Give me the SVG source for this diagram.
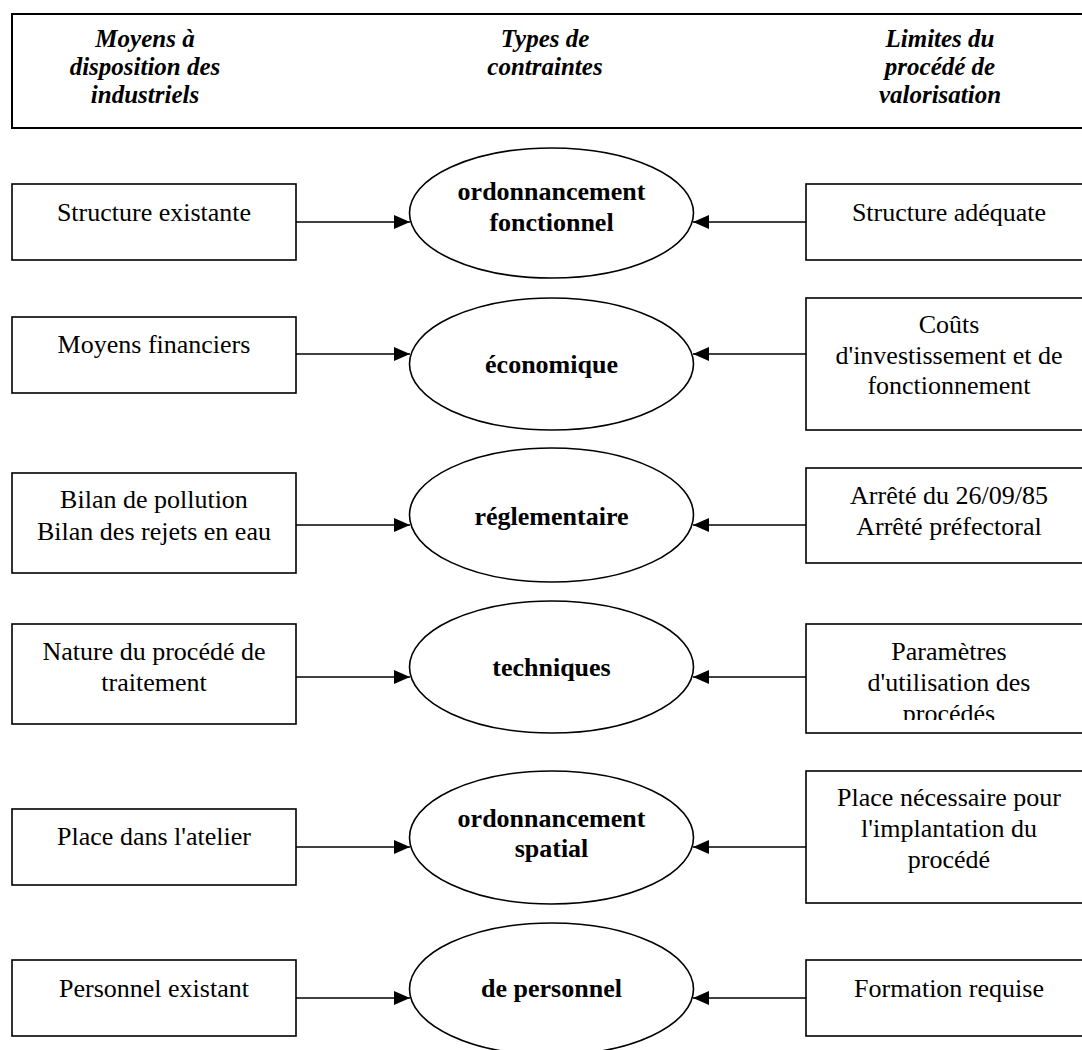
<svg xmlns="http://www.w3.org/2000/svg" width="1082" height="1050" viewBox="0 0 1082 1050">
<style>
.box{fill:#fff;stroke:#000;stroke-width:1.6}
.hdr{fill:#fff;stroke:#000;stroke-width:2}
.ell{fill:#fff;stroke:#000;stroke-width:1.6}
text{font-family:"Liberation Serif","Times New Roman",Times,serif;fill:#000;text-anchor:middle}
.t{font-size:26px}
.b{font-weight:bold}
.h{font-size:25px;font-weight:bold;font-style:italic}
.c{stroke:#000;stroke-width:1.6;fill:none}
</style>
<defs>
<marker id="ah" markerWidth="17" markerHeight="14" refX="16" refY="7" orient="auto" markerUnits="userSpaceOnUse">
<path d="M0,0 L16,7 L0,14 Z" fill="#000"/>
</marker>
<clipPath id="clip4"><rect x="806" y="624" width="290" height="96"/></clipPath>
</defs>
<rect width="1082" height="1050" fill="#fff"/>
<g id="header" font-family="Liberation Serif, Times New Roman, serif">
<rect class="hdr" x="12" y="14" width="1080" height="114"/>
<text class="h" x="145" y="47" font-family="Liberation Serif, serif">Moyens à</text>
<text class="h" x="145" y="75" font-family="Liberation Serif, serif">disposition des</text>
<text class="h" x="145" y="103" font-family="Liberation Serif, serif">industriels</text>
<text class="h" x="545" y="47" font-family="Liberation Serif, serif">Types de</text>
<text class="h" x="545" y="75" font-family="Liberation Serif, serif">contraintes</text>
<text class="h" x="940" y="47" font-family="Liberation Serif, serif">Limites du</text>
<text class="h" x="940" y="75" font-family="Liberation Serif, serif">procédé de</text>
<text class="h" x="940" y="103" font-family="Liberation Serif, serif">valorisation</text>
</g>
<g id="connectors">
<line class="c" x1="296" y1="222" x2="410" y2="222" marker-end="url(#ah)"/>
<line class="c" x1="806" y1="222" x2="693" y2="222" marker-end="url(#ah)"/>
<line class="c" x1="296" y1="354" x2="410" y2="354" marker-end="url(#ah)"/>
<line class="c" x1="806" y1="354" x2="693" y2="354" marker-end="url(#ah)"/>
<line class="c" x1="296" y1="525" x2="410" y2="525" marker-end="url(#ah)"/>
<line class="c" x1="806" y1="525" x2="693" y2="525" marker-end="url(#ah)"/>
<line class="c" x1="296" y1="677" x2="410" y2="677" marker-end="url(#ah)"/>
<line class="c" x1="806" y1="677" x2="693" y2="677" marker-end="url(#ah)"/>
<line class="c" x1="296" y1="847" x2="410" y2="847" marker-end="url(#ah)"/>
<line class="c" x1="806" y1="847" x2="693" y2="847" marker-end="url(#ah)"/>
<line class="c" x1="296" y1="998" x2="410" y2="998" marker-end="url(#ah)"/>
<line class="c" x1="806" y1="998" x2="693" y2="998" marker-end="url(#ah)"/>
</g>
<g id="l1"><rect class="box" x="12" y="184" width="284" height="76"/><text class="t" x="154" y="221">Structure existante</text></g>
<g id="l2"><rect class="box" x="12" y="317" width="284" height="76"/><text class="t" x="154" y="353">Moyens financiers</text></g>
<g id="l3"><rect class="box" x="12" y="473" width="284" height="100"/><text class="t" x="154" y="508">Bilan de pollution</text><text class="t" x="154" y="540">Bilan des rejets en eau</text></g>
<g id="l4"><rect class="box" x="12" y="624" width="284" height="100"/><text class="t" x="154" y="660">Nature du procédé de</text><text class="t" x="154" y="691">traitement</text></g>
<g id="l5"><rect class="box" x="12" y="809" width="284" height="76"/><text class="t" x="154" y="845">Place dans l'atelier</text></g>
<g id="l6"><rect class="box" x="12" y="960" width="284" height="76"/><text class="t" x="154" y="997">Personnel existant</text></g>
<g id="e1"><ellipse class="ell" cx="551.5" cy="213" rx="142" ry="65"/><text class="t b" x="551.5" y="200">ordonnancement</text><text class="t b" x="551.5" y="231">fonctionnel</text></g>
<g id="e2"><ellipse class="ell" cx="551.5" cy="364" rx="142" ry="66"/><text class="t b" x="551.5" y="373">économique</text></g>
<g id="e3"><ellipse class="ell" cx="551.5" cy="515" rx="142" ry="67"/><text class="t b" x="551.5" y="525">réglementaire</text></g>
<g id="e4"><ellipse class="ell" cx="551.5" cy="667" rx="142" ry="66"/><text class="t b" x="551.5" y="676">techniques</text></g>
<g id="e5"><ellipse class="ell" cx="551.5" cy="837.5" rx="142" ry="66.5"/><text class="t b" x="551.5" y="827">ordonnancement</text><text class="t b" x="551.5" y="857">spatial</text></g>
<g id="e6"><ellipse class="ell" cx="551.5" cy="989" rx="142" ry="66"/><text class="t b" x="551.5" y="997">de personnel</text></g>
<g id="r1"><rect class="box" x="806" y="184" width="286" height="76"/><text class="t" x="949" y="221">Structure adéquate</text></g>
<g id="r2"><rect class="box" x="806" y="298" width="286" height="132"/><text class="t" x="949" y="333">Coûts</text><text class="t" x="949" y="364">d'investissement et de</text><text class="t" x="949" y="394">fonctionnement</text></g>
<g id="r3"><rect class="box" x="806" y="468" width="286" height="95"/><text class="t" x="949" y="504">Arrêté du 26/09/85</text><text class="t" x="949" y="535">Arrêté préfectoral</text></g>
<g id="r4"><rect class="box" x="806" y="624" width="286" height="109"/><g clip-path="url(#clip4)"><text class="t" x="949" y="660">Paramètres</text><text class="t" x="949" y="691">d'utilisation des</text><text class="t" x="949" y="722">procédés</text></g></g>
<g id="r5"><rect class="box" x="806" y="771" width="286" height="132"/><text class="t" x="949" y="806">Place nécessaire pour</text><text class="t" x="949" y="837">l'implantation du</text><text class="t" x="949" y="868">procédé</text></g>
<g id="r6"><rect class="box" x="806" y="960" width="286" height="76"/><text class="t" x="949" y="997">Formation requise</text></g>
</svg>
